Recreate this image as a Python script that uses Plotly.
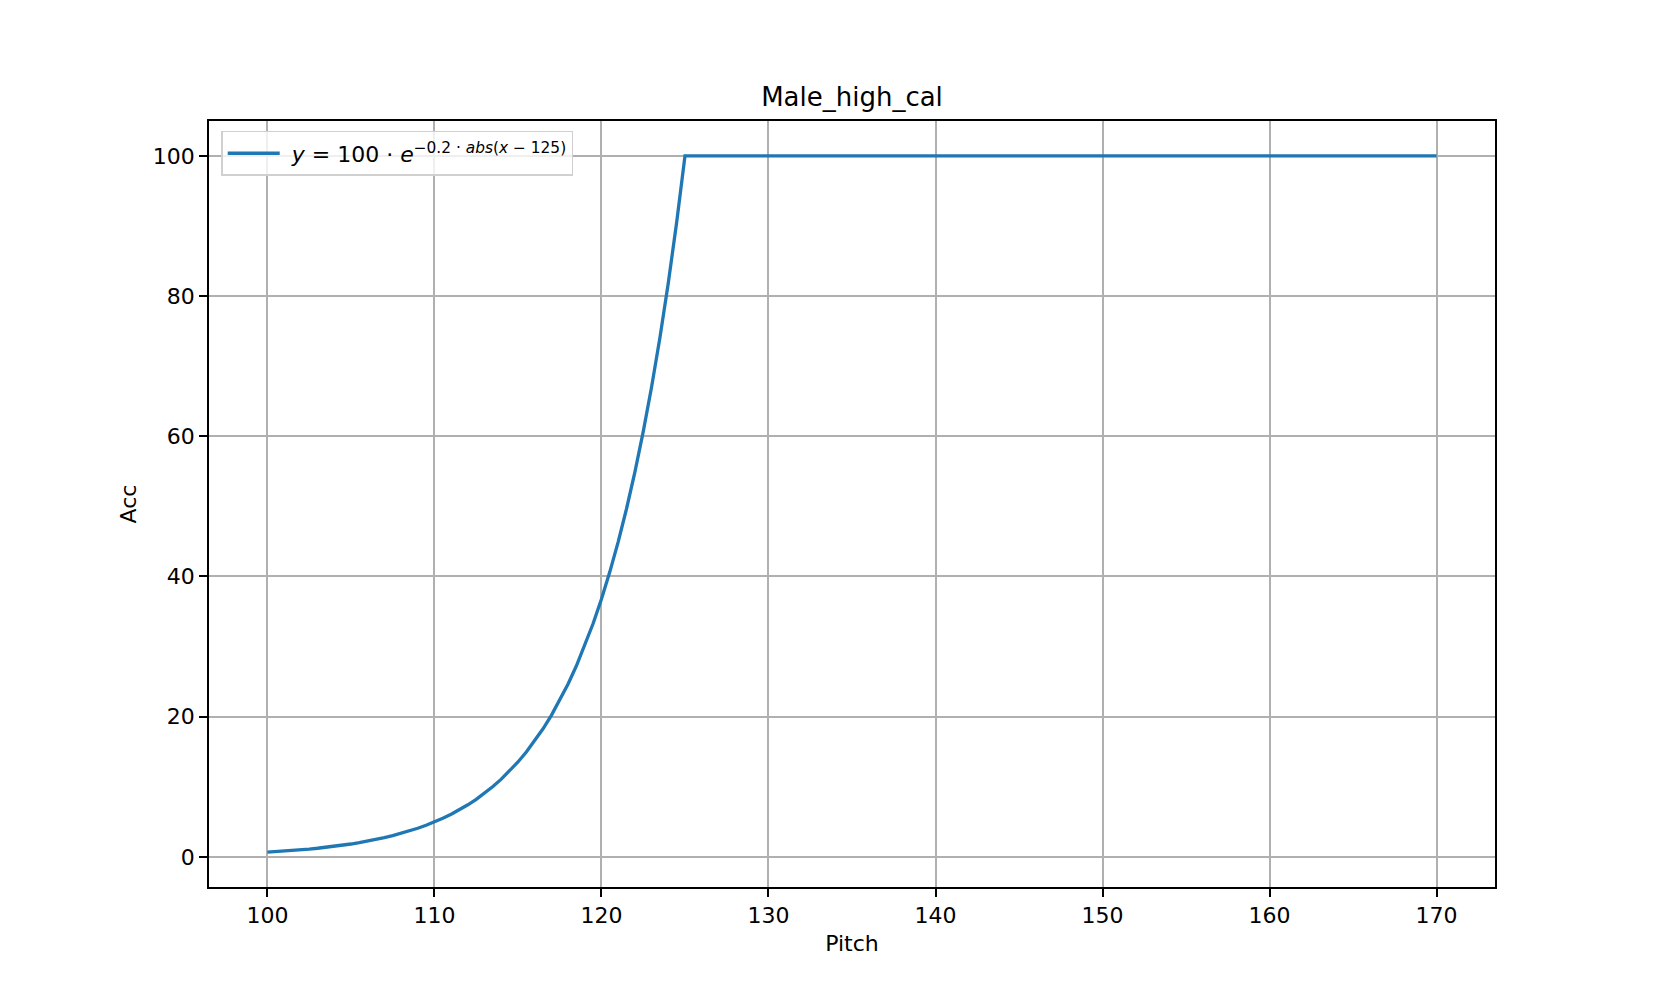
import plotly.graph_objects as go

# Pitch values and corresponding accuracy
pitch = [100, 100.5, 101, 101.5, 102, 102.5, 103, 103.5, 104, 104.5, 105, 105.5,
         106, 106.5, 107, 107.5, 108, 108.5, 109, 109.5, 110, 110.5, 111, 111.5,
         112, 112.5, 113, 113.5, 114, 114.5, 115, 115.5, 116, 116.5, 117, 117.5,
         118, 118.5, 119, 119.5, 120, 120.5, 121, 121.5, 122, 122.5, 123, 123.5,
         124, 124.5, 125, 170]
acc = [0.674, 0.745, 0.823, 0.910, 1.005, 1.111, 1.228, 1.357, 1.500, 1.657, 1.832, 2.024,
       2.237, 2.472, 2.732, 3.020, 3.337, 3.688, 4.076, 4.505, 4.979, 5.502, 6.081, 6.721,
       7.427, 8.208, 9.072, 10.026, 11.080, 12.246, 13.534, 14.957, 16.530, 18.268, 20.190, 22.313,
       24.660, 27.253, 30.119, 33.287, 36.788, 40.657, 44.933, 49.659, 54.881, 60.653, 67.032, 74.082,
       81.873, 90.484, 100.0, 100.0]

x_ticks = [100, 110, 120, 130, 140, 150, 160, 170]
y_ticks = [0, 20, 40, 60, 80, 100]

title_text = "Male_high_cal"
x_label = "Pitch"
y_label = "Acc"
legend_label = "\u00a0<i>y</i> = 100 · <i>e</i><sup>−0.2 · <i>abs</i>(<i>x</i> − 125)</sup>"

font_family = "DejaVu Sans, Liberation Sans, sans-serif"

fig = go.Figure()
fig.add_trace(go.Scatter(
    x=pitch, y=acc, mode="lines", name=legend_label,
    line=dict(color="#1f77b4", width=3.3),
    showlegend=True,
))

axis_common = dict(
    showgrid=True, gridcolor="#b0b0b0", gridwidth=1.8,
    showline=True, linecolor="black", linewidth=1.8, mirror=True,
    ticks="outside", ticklen=8, tickwidth=1.8, tickcolor="black",
    tickfont=dict(size=22, color="black", family=font_family),
    zeroline=False,
)

fig.update_layout(
    width=1661, height=997,
    margin=dict(l=201, r=174, t=113, b=118),
    paper_bgcolor="white", plot_bgcolor="white",
    font=dict(family=font_family, color="black"),
    title=dict(text=title_text, x=0.5, xanchor="center", y=1 - 89 / 997, yanchor="middle",
               xref="paper", font=dict(size=26, color="black", family=font_family)),
    xaxis=dict(range=[96.5, 173.5], tickvals=x_ticks, ticktext=[str(v) for v in x_ticks],
               title=dict(text=x_label, font=dict(size=22, color="black"), standoff=8),
               **axis_common),
    yaxis=dict(range=[-4.3, 104.97], tickvals=y_ticks, ticktext=[str(v) for v in y_ticks],
               title=dict(text=y_label, font=dict(size=22, color="black"), standoff=10),
               **axis_common),
    legend=dict(x=0.0095, y=0.987, xanchor="left", yanchor="top",
                bgcolor="rgba(255,255,255,0.8)", bordercolor="#d0d0d0", borderwidth=1.5,
                itemwidth=52,
                font=dict(size=22, color="black", family=font_family)),
)

fig.write_html("out.html")
